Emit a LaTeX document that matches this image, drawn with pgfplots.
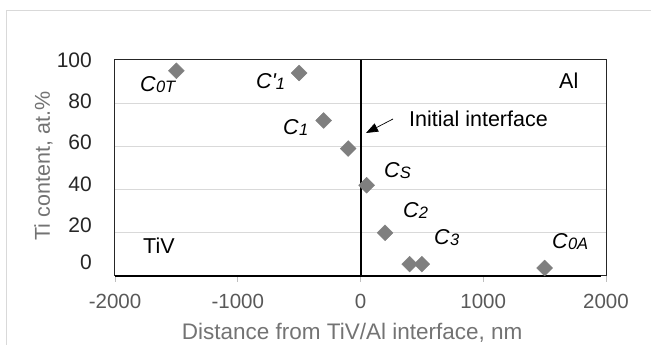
\documentclass[border=0pt]{standalone}
\usepackage{fontspec}
\setmainfont{Liberation Sans}
\usepackage{pgfplots}
\pgfplotsset{compat=1.18}
\usetikzlibrary{arrows.meta}
\definecolor{ytickcol}{HTML}{262626}
\definecolor{xtickcol}{HTML}{595959}
\definecolor{titlecol}{HTML}{737373}
\definecolor{markcol}{HTML}{7F7F7F}
\definecolor{gridcol}{HTML}{D9D9D9}
\definecolor{tickmarkcol}{HTML}{BFBFBF}
\definecolor{framecol}{HTML}{262626}
\definecolor{bordercol}{HTML}{D9D9D9}
\newcommand{\clab}[1]{\textit{C\kern0.3pt\raisebox{-1pt}{\fontsize{16.5}{16.5}\selectfont #1}}}
\begin{document}
\begin{tikzpicture}[x=1pt,y=1pt]
\useasboundingbox (0,0) rectangle (651,345);
\draw[bordercol, line width=1pt] (6,0) -- (6,334) -- (651,334);
\begin{axis}[
  at={(115pt,69pt)}, anchor=south west, scale only axis,
  width=491pt, height=216pt,
  xmin=-2000, xmax=2000, ymin=0, ymax=100,
  clip=false,
  axis line style={draw=framecol, line width=1pt},
  tick align=outside,
  major tick length=6pt,
  xtick={-2000,-1000,0,1000,2000},
  xticklabels={-2000,-1000,0,1000,2000},
  xtick pos=lower,
  xtick style={draw=tickmarkcol, line width=0.8pt},
  xticklabel style={font=\fontsize{20.5}{20.5}\selectfont, text=xtickcol, anchor=north, inner sep=0pt, yshift=-11.5pt},
  ytick={6.5,23.6,42.3,62,80.7,100},
  yticklabels={0,20,40,60,80,100},
  ytick pos=left,
  ytick style={draw=none},
  yticklabel style={font=\fontsize{21}{21}\selectfont, text=ytickcol, anchor=east, inner sep=0pt, xshift=-17pt},
  extra y ticks={20,40,60,80},
  extra y tick labels={},
  extra y tick style={grid=major},
  grid style={draw=gridcol, line width=0.9pt},
  xlabel={Distance from TiV/Al interface, nm},
  xlabel style={at={(axis description cs:0.483,-0.2917)}, anchor=base, font=\fontsize{22.5}{22.5}\selectfont, text=titlecol, inner sep=0pt},
  ylabel={Ti content, at.\%},
  ylabel style={at={(axis description cs:-0.1324,0.509)}, anchor=base, font=\fontsize{21.5}{21.5}\selectfont, text=titlecol, inner sep=0pt},
]
\addplot[only marks, mark=square*, mark size=5.6pt, mark options={rotate=45, fill=markcol, draw=markcol}]
 coordinates {(-1500,95) (-500,94) (-300,72) (-100,59) (50,42) (200,20) (400,5.5) (500,5.5) (1500,3.7)};
\addplot[black, line width=2pt] coordinates {(0,0) (0,100)};
\draw[black, line width=2pt] (axis cs:-2000,0) -- (axis cs:1960,0);
\begin{scope}[every node/.style={inner sep=0pt, anchor=base west, font=\fontsize{21.5}{21.5}\selectfont}]
\node at (axis cs:-1796,85.2) {\clab{0T}};
\node at (axis cs:-851,87.0) {\textit{C\textquotesingle\raisebox{-1pt}{\fontsize{16.5}{16.5}\selectfont 1}}};
\node at (axis cs:-631,65.3) {\clab{1}};
\node at (axis cs:191,45.4) {\clab{S}};
\node at (axis cs:346,27.3) {\clab{2}};
\node at (axis cs:599,14.4) {\clab{3}};
\node at (axis cs:1560,12.5) {\clab{0A}};
\node at (axis cs:1617,87.0) {Al};
\node at (axis cs:-1772,10.2) {TiV};
\node at (axis cs:395,69.0) {Initial interface};
\end{scope}
\draw[-{Triangle[length=12pt,width=9pt]}, line width=0.7pt] (axis cs:265,72.7) -- (axis cs:45,66.2);
\end{axis}
\end{tikzpicture}
\end{document}
